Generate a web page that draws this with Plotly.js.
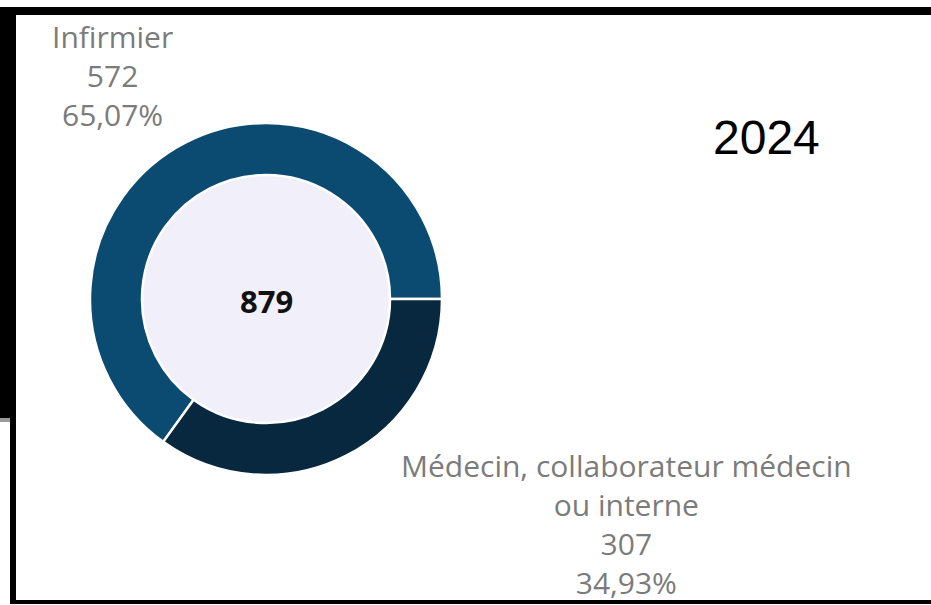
<!DOCTYPE html>
<html>
<head>
<meta charset="utf-8">
<script src="https://cdn.plot.ly/plotly-3.0.1.min.js"></script>
<style>html,body{margin:0;padding:0;background:#fff;}#chart{width:931px;height:605px;}</style>
</head>
<body>
<div id="chart"></div>
<script>
const categories = ["Infirmier", "Médecin, collaborateur médecin<br>ou interne"];
const values = [572, 307];
const percents = ["65,07%", "34,93%"];
const total = 879;
const yearLabel = "2024";
const colors = ["#0B4A71", "#07283F"];

const W = 931, H = 605;
const px = x => x / W;
const py = y => 1 - y / H;

const cx = 266, cy = 299, R = 176, r = 124;
const sum = values.reduce((a, b) => a + b, 0);
// first slice ends at 3 o'clock (90 deg clockwise from 12)
const rot = 90 - 360 * values[0] / sum;

const trace = {
  type: "pie",
  labels: categories,
  values: values,
  sort: false,
  direction: "counterclockwise",
  rotation: rot,
  hole: r / R,
  textinfo: "none",
  hoverinfo: "label+value+percent",
  marker: { colors: colors, line: { color: "#ffffff", width: 2.5 } },
  domain: { x: [px(cx - R), px(cx + R)], y: [py(cy + R), py(cy - R)] },
  showlegend: false
};

const labelFont = { family: "Open Sans, sans-serif", size: 30, color: "#7b7b7b" };

const layout = {
  width: W, height: H,
  margin: { l: 0, r: 0, t: 0, b: 0 },
  paper_bgcolor: "#ffffff",
  showlegend: false,
  shapes: [
    { type: "circle", xref: "paper", yref: "paper", layer: "below",
      x0: px(cx - r), x1: px(cx + r), y0: py(cy + r), y1: py(cy - r),
      fillcolor: "#F1EFFA", line: { width: 0 } },
    { type: "rect", xref: "paper", yref: "paper", x0: 0, x1: 1, y0: py(15), y1: py(7),
      fillcolor: "#000", line: { width: 0 } },
    { type: "rect", xref: "paper", yref: "paper", x0: 0, x1: px(16), y0: py(420), y1: py(7),
      fillcolor: "#000", line: { width: 0 } },
    { type: "rect", xref: "paper", yref: "paper", x0: 0, x1: px(11), y0: py(422), y1: py(418),
      fillcolor: "#9a9a9a", line: { width: 0 } },
    { type: "rect", xref: "paper", yref: "paper", x0: px(10), x1: px(16), y0: py(604), y1: py(418),
      fillcolor: "#000", line: { width: 0 } },
    { type: "rect", xref: "paper", yref: "paper", x0: px(10), x1: 1, y0: py(604), y1: py(600),
      fillcolor: "#000", line: { width: 0 } }
  ],
  annotations: [
    { xref: "paper", yref: "paper", x: px(cx), y: py(cy + 2), xanchor: "center", yanchor: "middle",
      showarrow: false, text: "<b>" + total + "</b>",
      font: { family: "Open Sans, sans-serif", size: 31, color: "#111" } },
    { xref: "paper", yref: "paper", x: px(112), y: py(75), xanchor: "center", yanchor: "middle",
      showarrow: false, align: "center",
      text: categories[0] + "<br>" + values[0] + "<br>" + percents[0], font: labelFont },
    { xref: "paper", yref: "paper", x: px(626), y: py(524), xanchor: "center", yanchor: "middle",
      showarrow: false, align: "center",
      text: categories[1] + "<br>" + values[1] + "<br>" + percents[1], font: labelFont },
    { xref: "paper", yref: "paper", x: px(766), y: py(137), xanchor: "center", yanchor: "middle",
      showarrow: false, text: yearLabel,
      font: { family: "Liberation Sans, Arial, sans-serif", size: 48, color: "#000" } }
  ]
};

Plotly.newPlot("chart", [trace], layout, { displayModeBar: false, staticPlot: true });
</script>
</body>
</html>
